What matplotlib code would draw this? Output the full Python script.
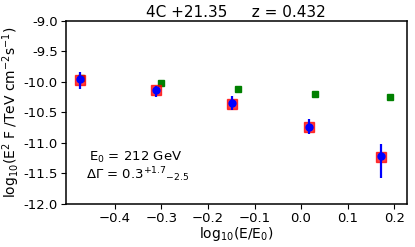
import matplotlib
matplotlib.use('Agg')
import matplotlib.pyplot as plt
import numpy as np

# log10(E/E0) of the measured bins
x_obs = [-0.475, -0.312, -0.148, 0.016, 0.172]
# observed flux (red squares)
y_obs = [-9.97, -10.135, -10.37, -10.735, -11.225]
# model points (blue circles) with asymmetric errors
y_mod = [-9.95, -10.14, -10.345, -10.735, -11.21]
err_lo = [0.17, 0.10, 0.115, 0.115, 0.37]
err_hi = [0.115, 0.08, 0.115, 0.125, 0.20]
# intrinsic points (green squares)
x_int = [-0.472, -0.300, -0.135, 0.030, 0.192]
y_int = [-9.93, -10.025, -10.12, -10.20, -10.245]

yticks = [-9.0, -9.5, -10.0, -10.5, -11.0, -11.5, -12.0]
ytick_labels = ['-9.0', '-9.5', '-10.0', '-10.5', '-11.0', '-11.5', '-12.0']
xticks = [-0.4, -0.3, -0.2, -0.1, 0.0, 0.1, 0.2]

fig = plt.figure(figsize=(4.15, 2.47), dpi=100)
ax = fig.add_axes([0.158, 0.174, 0.822, 0.742])

ax.plot(x_int, y_int, 's', color='green', markersize=5, zorder=2)
ax.plot(x_obs, y_obs, 's', color='red', alpha=0.75, markersize=7, zorder=3)
ax.errorbar(x_obs, y_mod, yerr=[err_lo, err_hi], fmt='o', color='blue',
            markersize=5, elinewidth=1.6, capsize=0, zorder=4)

ax.set_xlim(-0.506, 0.227)
ax.set_ylim(-12.0, -9.0)
ax.set_xticks(xticks)
ax.set_yticks(yticks)
ax.set_yticklabels(ytick_labels)
ax.tick_params(labelsize=9.5, pad=2)
for s in ax.spines.values():
    s.set_linewidth(1.1)

ax.set_xlabel(r'log$_{10}$(E/E$_0$)', fontsize=10, labelpad=0)
ax.set_ylabel(r'log$_{10}$(E$^2$ F /TeV cm$^{-2}$s$^{-1}$)', fontsize=10, labelpad=1)
ax.set_title('4C +21.35     z = 0.432', fontsize=11, pad=3)

ax.text(-0.455, -11.3, r'E$_0$ = 212 GeV', fontsize=9.5)
ax.text(-0.462, -11.6, r'$\Delta\Gamma$ = 0.3$^{+1.7}$$_{-2.5}$', fontsize=9.5)

fig.savefig('out.png', dpi=100)
